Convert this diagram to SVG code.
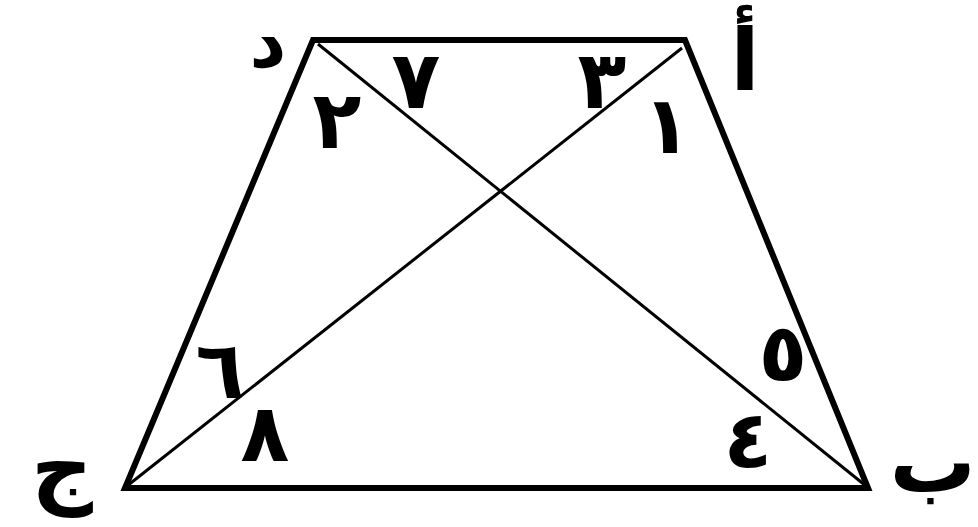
<svg xmlns="http://www.w3.org/2000/svg" width="978" height="527" viewBox="0 0 978 527">
<style>
.edge{stroke:#000;stroke-width:6;fill:none;stroke-linejoin:miter}
.diag{stroke:#000;stroke-width:3;fill:none}
.lbl{font-family:"DejaVu Sans",sans-serif;font-weight:bold;fill:#000;text-anchor:middle}
.num{font-size:80px}
.ltr{font-size:86px}
</style>
<rect width="978" height="527" fill="#fff"/>
<g id="connectors">
<polygon class="edge" points="313,40 685,40 868,488 125,488"/>
<line class="diag" x1="318" y1="44" x2="866" y2="486"/>
<line class="diag" x1="682" y1="48" x2="127" y2="486"/>
</g>
<g id="vertex-d"><text class="lbl" x="268" y="67" style="font-size:72px">د</text></g>
<g id="vertex-a"><text class="lbl ltr" x="745" y="90">أ</text></g>
<g id="vertex-b"><text class="lbl ltr" x="976" y="492" style="text-anchor:end">ب</text></g>
<g id="vertex-j"><text class="lbl ltr" x="62" y="497">ج</text></g>
<g id="angle-1"><text class="lbl num" x="667" y="153">١</text></g>
<g id="angle-2"><text class="lbl num" x="337" y="148">٢</text></g>
<g id="angle-3"><text class="lbl num" x="602" y="108">٣</text></g>
<g id="angle-4"><text class="lbl num" x="748" y="468">٤</text></g>
<g id="angle-5"><text class="lbl num" x="783" y="381">٥</text></g>
<g id="angle-6"><text class="lbl num" x="220" y="398">٦</text></g>
<g id="angle-7"><text class="lbl num" x="416" y="108">٧</text></g>
<g id="angle-8"><text class="lbl num" x="265" y="461">٨</text></g>
</svg>
